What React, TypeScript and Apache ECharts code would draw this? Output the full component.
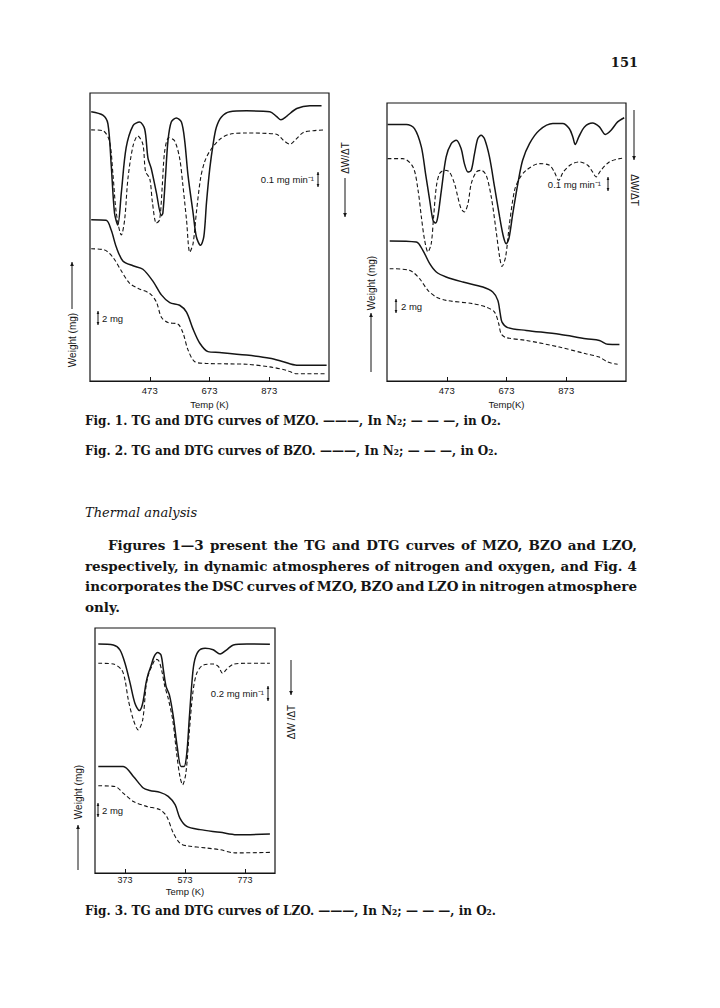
import React, { useEffect, useRef } from "react";
import * as echarts from "echarts";

const W = 720;
const H = 1008;

// ---- Data: [temperature (K), signal in % of panel height] ----
// Fig. 1 (MZO)
const fig1DtgN2: number[][] = [[277,93.5],[316,92.3],[333,89.3],[344,75.0],[355,58.4],[366,54.2],[378,65.5],[394,81.0],[417,88.7],[439,89.9],[456,87.5],[467,77.4],[478,73.8],[495,65.5],[512,57.4],[517,58.4],[526,71.5],[534,83.4],[545,89.9],[562,91.3],[579,89.9],[590,83.4],[601,71.5],[618,58.4],[629,50.1],[643,47.1],[654,50.1],[663,62.0],[674,73.8],[685,82.2],[696,88.1],[713,91.7],[741,93.5],[797,93.8],[875,93.5],[897,91.9],[912,90.7],[931,91.9],[965,94.6],[1009,95.6],[1048,95.6]];
const fig1DtgO2: number[][] = [[277,87.2],[316,86.9],[338,83.4],[350,71.5],[361,58.4],[378,50.7],[389,56.0],[400,70.3],[417,81.6],[433,85.1],[450,82.2],[459,72.7],[473,70.3],[482,62.0],[495,54.8],[506,56.0],[515,67.9],[523,79.8],[537,84.5],[556,83.4],[573,77.4],[584,67.9],[596,56.0],[607,44.7],[618,47.7],[629,58.4],[643,70.3],[657,76.2],[674,79.8],[707,83.9],[741,85.7],[797,86.1],[897,85.7],[920,83.6],[942,82.2],[962,83.9],[987,86.3],[1020,86.9],[1060,87.2]];
const fig1TgN2: number[][] = [[277,56.0],[327,55.8],[344,52.4],[361,46.5],[383,41.7],[417,40.0],[450,38.8],[484,34.6],[512,29.9],[540,27.2],[573,26.3],[596,23.9],[618,18.0],[640,13.2],[668,10.2],[707,9.9],[797,9.0],[875,7.9],[920,6.7],[965,5.5],[1065,5.5]];
const fig1TgO2: number[][] = [[277,45.9],[322,45.5],[350,42.9],[378,38.2],[405,34.0],[433,32.2],[473,30.4],[495,27.5],[512,22.1],[534,20.3],[568,19.7],[584,16.8],[601,10.8],[624,6.7],[663,6.1],[797,5.8],[875,4.9],[931,3.7],[965,2.5],[1060,2.5]];

// Fig. 2 (BZO)
const fig2DtgN2: number[][] = [[275,92.3],[338,92.3],[365,90.8],[388,84.2],[402,74.6],[416,65.0],[427,57.8],[436,56.8],[443,59.0],[455,68.6],[471,80.6],[488,85.4],[505,86.6],[521,83.6],[532,78.2],[544,75.2],[555,75.8],[566,81.8],[577,87.2],[588,88.4],[599,87.2],[616,80.6],[633,69.8],[650,59.0],[663,51.8],[672,49.4],[681,51.2],[694,60.2],[711,71.0],[727,79.4],[750,85.4],[783,90.2],[828,92.6],[861,92.6],[883,90.8],[895,87.8],[903,85.1],[915,87.8],[934,91.4],[961,92.8],[984,91.4],[1004,88.7],[1023,90.2],[1045,93.2],[1067,94.7]];
const fig2DtgO2: number[][] = [[275,80.0],[326,80.0],[360,77.0],[377,68.6],[388,59.0],[399,50.6],[410,46.4],[421,49.4],[429,59.0],[438,69.8],[449,74.6],[466,75.8],[482,75.2],[499,71.0],[510,66.2],[521,62.0],[532,60.8],[544,63.8],[555,71.0],[572,75.2],[588,75.8],[605,74.0],[622,66.2],[638,54.2],[650,44.6],[658,41.2],[670,44.6],[683,56.6],[700,68.6],[716,72.8],[739,75.8],[783,78.2],[817,77.6],[833,75.2],[848,72.2],[863,75.2],[889,77.9],[917,78.8],[945,77.6],[961,75.2],[973,73.4],[989,75.8],[1017,78.8],[1051,80.0],[1067,80.2]];
const fig2TgN2: number[][] = [[282,50.4],[371,50.0],[393,47.0],[416,42.2],[438,39.2],[471,37.4],[527,35.6],[594,33.8],[627,32.0],[644,29.0],[652,24.2],[658,21.2],[677,19.2],[739,18.2],[850,16.8],[939,15.2],[984,14.6],[1012,13.2],[1051,13.1]];
const fig2TgO2: number[][] = [[282,40.4],[349,39.8],[382,36.8],[410,32.6],[438,30.2],[471,29.0],[561,27.8],[605,26.6],[633,24.8],[647,20.6],[655,17.0],[672,15.6],[739,14.6],[850,12.2],[939,9.8],[984,8.6],[1012,6.8],[1045,6.0]];

// Fig. 3 (LZO)
const fig3DtgN2: number[][] = [[284,93.5],[334,93.1],[356,91.1],[373,85.6],[390,77.5],[406,69.3],[421,66.3],[432,69.3],[443,77.5],[451,81.5],[459,84.3],[470,88.3],[482,90.0],[493,89.0],[501,82.9],[510,76.1],[521,72.7],[534,63.9],[547,51.6],[560,43.5],[570,43.5],[579,48.9],[587,62.5],[595,76.1],[603,85.6],[617,90.4],[640,91.7],[667,91.1],[690,89.4],[712,91.1],[734,93.1],[779,93.5],[856,93.4]];
const fig3DtgO2: number[][] = [[284,85.6],[334,85.3],[362,82.9],[373,78.8],[384,70.7],[401,62.5],[417,58.4],[432,62.5],[443,76.1],[451,80.9],[462,84.3],[476,87.2],[485,86.7],[495,82.9],[506,76.1],[517,71.3],[532,62.5],[545,48.9],[556,39.4],[565,36.0],[576,40.8],[587,57.1],[599,73.4],[612,81.5],[634,84.9],[667,85.3],[684,84.3],[698,81.5],[712,83.2],[734,85.2],[779,85.6],[856,85.6]];
const fig3TgN2: number[][] = [[284,43.5],[367,43.5],[401,39.4],[434,34.7],[456,33.7],[490,32.9],[517,31.3],[540,27.9],[556,22.4],[579,19.0],[623,17.7],[690,16.6],[745,15.6],[856,15.9]];
const fig3TgO2: number[][] = [[284,35.6],[340,35.3],[367,32.6],[401,29.2],[445,27.2],[490,25.8],[512,23.1],[534,16.3],[556,12.2],[579,11.1],[645,10.2],[690,9.5],[740,8.2],[856,8.4]];

const fig12Ticks = [473, 673, 873];
const fig3Ticks = [373, 573, 773];

// ---- Texts ----
const pageNumber = "151";
const caption1 = "Fig. 1. TG and DTG curves of MZO. ———, In N\u2082; — — —, in O\u2082.";
const caption2 = "Fig. 2. TG and DTG curves of BZO. ———, In N\u2082; — — —, in O\u2082.";
const caption3 = "Fig. 3. TG and DTG curves of LZO. ———, In N\u2082; — — —, in O\u2082.";
const heading = "Thermal analysis";
const paraLines = [
  "Figures 1\u20143 present the TG and DTG curves of MZO, BZO and LZO,",
  "respectively, in dynamic atmospheres of nitrogen and oxygen, and Fig. 4",
  "incorporates the DSC curves of MZO, BZO and LZO in nitrogen atmosphere",
  "only.",
];

const INK = "#151515";
const SANS = '"Liberation Sans", Arial, sans-serif';
const SERIF = '"DejaVu Serif", serif';

function measure(text: string, font: string): number {
  const c = document.createElement("canvas").getContext("2d");
  if (!c) return text.length * 7;
  c.font = font;
  return c.measureText(text).width;
}

function txt(x: number, y: number, text: string, font: string, align = "left", rotation = 0): any {
  return {
    type: "text",
    x,
    y,
    rotation,
    silent: true,
    style: { text, font, fill: INK, textAlign: align, textVerticalAlign: "middle", align, verticalAlign: "middle" },
  };
}

function justified(line: string, x0: number, x1: number, y: number, font: string): any[] {
  const words = line.split(" ");
  const widths = words.map((w) => measure(w, font));
  const total = widths.reduce((a, b) => a + b, 0);
  const gap = words.length > 1 ? (x1 - x0 - total) / (words.length - 1) : 0;
  let x = x0;
  return words.map((w, i) => {
    const el = txt(x, y, w, font);
    x += widths[i] + gap;
    return el;
  });
}

function vArrow(x: number, y1: number, y2: number, heads: "start" | "end" | "both", hs = 3, lw = 1): any[] {
  const els: any[] = [
    { type: "line", silent: true, shape: { x1: x, y1, x2: x, y2 }, style: { stroke: INK, lineWidth: lw } },
  ];
  const head = (yt: number, dir: number) => ({
    type: "polygon",
    silent: true,
    shape: { points: [[x, yt], [x - hs * 0.75, yt - dir * hs * 1.6], [x + hs * 0.75, yt - dir * hs * 1.6]] },
    style: { fill: INK },
  });
  const d = y2 > y1 ? 1 : -1;
  if (heads === "end" || heads === "both") els.push(head(y2, d));
  if (heads === "start" || heads === "both") els.push(head(y1, -d));
  return els;
}

function buildOption(): any {
  const panels = [
    { grid: { left: 90, top: 93, width: 239, height: 288 }, min: 273, max: 1073, ticks: fig12Ticks, name: "Temp (K)", nameGap: 18, labelSize: 9.5, labelMargin: 4, data: [fig1DtgN2, fig1DtgO2, fig1TgN2, fig1TgO2] },
    { grid: { left: 387, top: 103, width: 239, height: 278 }, min: 273, max: 1073, ticks: fig12Ticks, name: "Temp(K)", nameGap: 18, labelSize: 9.5, labelMargin: 4, data: [fig2DtgN2, fig2DtgO2, fig2TgN2, fig2TgO2] },
    { grid: { left: 95, top: 628, width: 180, height: 245 }, min: 273, max: 873, ticks: fig3Ticks, name: "Temp (K)", nameGap: 13, labelSize: 9, labelMargin: 2, data: [fig3DtgN2, fig3DtgO2, fig3TgN2, fig3TgO2] },
  ];

  const grid = panels.map((p) => ({ ...p.grid, show: true, borderColor: INK, borderWidth: 1.2, backgroundColor: "transparent" }));
  const xAxis = panels.map((p, i) => ({
    type: "value",
    gridIndex: i,
    min: p.min,
    max: p.max,
    name: p.name,
    nameLocation: "middle",
    nameGap: p.nameGap,
    nameTextStyle: { fontFamily: SANS, fontSize: 9.5, color: INK },
    axisLine: { show: true, lineStyle: { color: INK, width: 1.2 } },
    axisTick: { show: true, inside: true, length: 4, customValues: p.ticks, lineStyle: { color: INK, width: 1 } },
    axisLabel: { show: true, customValues: p.ticks, fontFamily: SANS, fontSize: p.labelSize, color: INK, margin: p.labelMargin },
    splitLine: { show: false },
  }));
  const yAxis = panels.map((p, i) => ({ type: "value", gridIndex: i, min: 0, max: 100, show: false }));

  const series: any[] = [];
  panels.forEach((p, i) => {
    p.data.forEach((d, k) => {
      const dashed = k % 2 === 1;
      series.push({
        type: "line",
        xAxisIndex: i,
        yAxisIndex: i,
        data: d,
        showSymbol: false,
        symbol: "none",
        smooth: 0.3,
        silent: true,
        lineStyle: dashed
          ? { color: INK, width: 1.1, type: [4, 2.5] }
          : { color: INK, width: 1.5, type: "solid" },
      });
    });
  });

  const captionFont = `bold 12px ${SERIF}`;
  const bodyFont = `bold 13.5px ${SERIF}`;
  const smallSans = `9.5px ${SANS}`;
  const labelSans = `10px ${SANS}`;

  const elements: any[] = [
    txt(638, 62, pageNumber, `bold 13px ${SERIF}`, "right"),
    // Fig. 1 axis names
    txt(72, 340, "Weight (mg)", labelSans, "center", Math.PI / 2),
    ...vArrow(72, 309, 262, "end", 2.5),
    txt(345, 158, "\u0394W/\u0394T", labelSans, "center", Math.PI / 2),
    ...vArrow(345, 178, 217, "end", 2.5),
    // Fig. 1 scale marks
    txt(314, 179, "0.1 mg min\u207B\u00B9", smallSans, "right"),
    ...vArrow(318, 172, 187, "both", 1.8),
    ...vArrow(98, 311, 325, "both", 1.8),
    txt(102, 318, "2 mg", smallSans),
    // Fig. 2 axis names
    txt(371, 283, "Weight (mg)", labelSans, "center", Math.PI / 2),
    ...vArrow(371, 372, 313, "end", 2.5),
    ...vArrow(634, 110, 160, "end", 2.5),
    txt(634, 190, "\u0394W/\u0394T", labelSans, "center", -Math.PI / 2),
    // Fig. 2 scale marks
    txt(601, 184, "0.1 mg min\u207B\u00B9", smallSans, "right"),
    ...vArrow(608, 177, 191, "both", 1.8),
    ...vArrow(396, 299, 313, "both", 1.8),
    txt(401, 306, "2 mg", smallSans),
    // Fig. 3 axis names
    txt(78, 792, "Weight (mg)", labelSans, "center", Math.PI / 2),
    ...vArrow(78, 870, 825, "end", 2.5),
    ...vArrow(291, 660, 695, "end", 2.5),
    txt(291, 722, "\u0394W /\u0394T", labelSans, "center", Math.PI / 2),
    // Fig. 3 scale marks
    txt(264, 693, "0.2 mg min\u207B\u00B9", smallSans, "right"),
    ...vArrow(268, 686, 701, "both", 1.8),
    ...vArrow(98, 803, 817, "both", 1.8),
    txt(102, 810, "2 mg", smallSans),
    // captions
    txt(85, 421, caption1, captionFont),
    txt(85, 451, caption2, captionFont),
    txt(85, 911, caption3, captionFont),
    // heading
    txt(85, 512, heading, `italic 13px ${SERIF}`),
    // paragraph
    ...justified(paraLines[0], 108, 637, 545, bodyFont),
    ...justified(paraLines[1], 85, 637, 566, bodyFont),
    ...justified(paraLines[2], 85, 637, 586, bodyFont),
    txt(85, 607, paraLines[3], bodyFont),
  ];

  return {
    animation: false,
    backgroundColor: "#ffffff",
    grid,
    xAxis,
    yAxis,
    series,
    graphic: { elements },
  };
}

export default function App() {
  const ref = useRef<HTMLDivElement>(null);
  useEffect(() => {
    if (!ref.current) return;
    const chart = echarts.init(ref.current, null, { renderer: "svg" });
    chart.setOption(buildOption());
    return () => chart.dispose();
  }, []);
  return (
    <div
      ref={ref}
      style={{ position: "absolute", left: 0, top: 0, width: W, height: H, background: "#fff" }}
    />
  );
}
